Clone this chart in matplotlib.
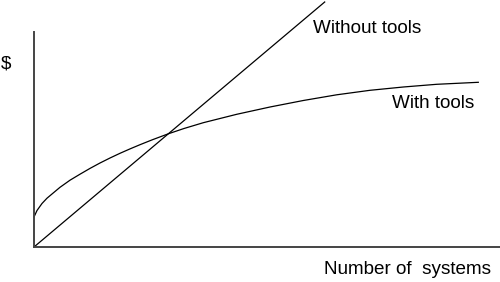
import matplotlib
matplotlib.use("Agg")
import matplotlib.pyplot as plt

plt.rcParams['font.family'] = ['Liberation Sans', 'DejaVu Sans']

# Conceptual cost curves (arbitrary units)
without_x = [0, 290.7]
without_y = [0, 245]

with_x = [0, 3, 8, 13, 18, 26, 36, 46, 56, 66, 76, 86, 96, 106, 118,
          134.3, 150, 169.3, 202.7, 236, 269.3, 302.7, 336, 369.3, 402.7,
          444.3]
with_y = [30, 36.5, 43.5, 48.8, 53, 59.7, 66.8, 72.8, 78.6, 84, 89, 93.7,
          98.1, 102.3, 107.1, 113.2, 118.5, 124.3, 132.7, 140, 146.5, 152.2,
          156.7, 160, 162.7, 164.7]

labels = {"without": "Without tools", "with": "With tools"}
x_label = "Number of  systems"
y_label = "$"

W, H = 500, 282
fig = plt.figure(figsize=(W / 100, H / 100), dpi=100)
ax = fig.add_axes([34 / W, (H - 247) / H, 466 / W, 245 / H])
ax.set_xlim(0, 466)
ax.set_ylim(0, 245)

ax.plot(without_x, without_y, color='black', lw=0.9, clip_on=False)
ax.plot(with_x, with_y, color='black', lw=0.9, clip_on=False,
        solid_joinstyle='round')

for s in ['top', 'right']:
    ax.spines[s].set_visible(False)
for s in ['left', 'bottom']:
    ax.spines[s].set_color('#444444')
    ax.spines[s].set_linewidth(1.4)
ax.spines['left'].set_bounds(0, 215)
ax.set_xticks([])
ax.set_yticks([])

fig.text(313 / W, 1 - 28.5 / H, labels["without"], fontsize=13.6,
         ha='left', va='center', color='black')
fig.text(391.5 / W, 1 - 103.5 / H, labels["with"], fontsize=13.6,
         ha='left', va='center', color='black')
fig.text(324 / W, 1 - 270 / H, x_label, fontsize=13.6,
         ha='left', va='center', color='black')
fig.text(1 / W, 1 - 64 / H, y_label, fontsize=13.6,
         ha='left', va='center', color='black')

fig.savefig("out.png", dpi=100)
